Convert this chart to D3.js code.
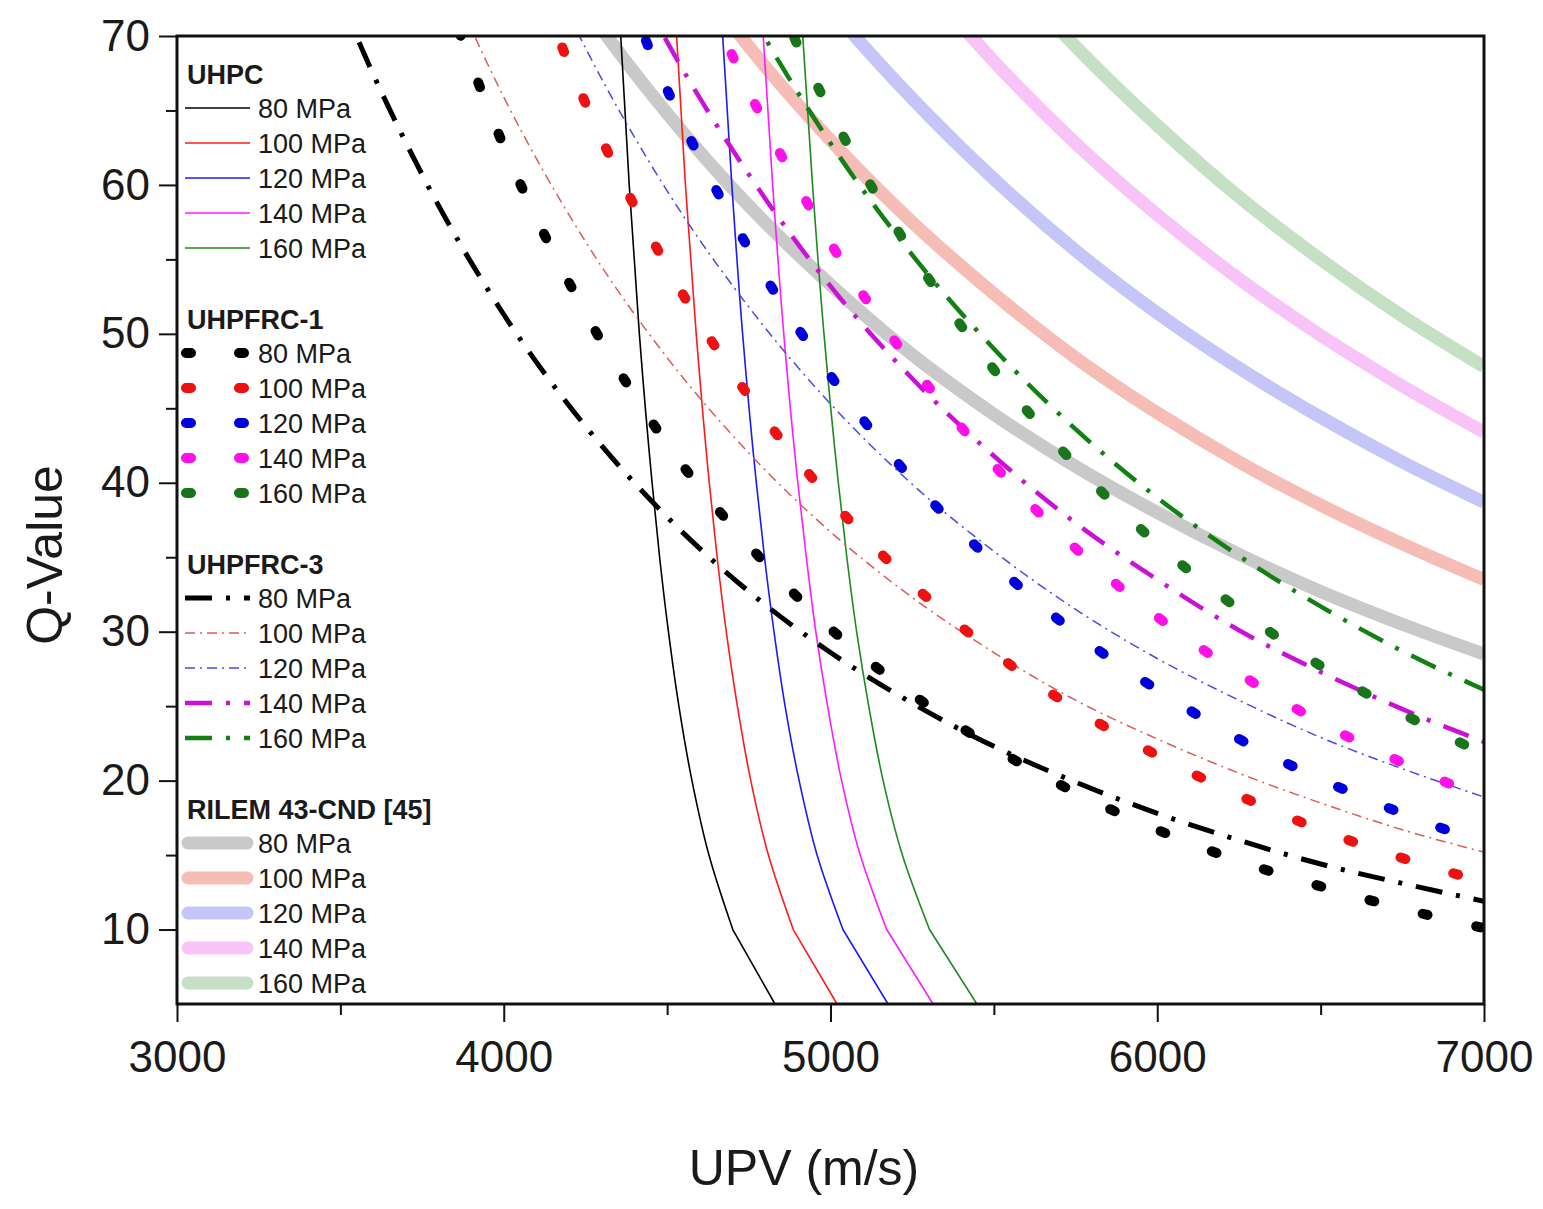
<!DOCTYPE html>
<html><head><meta charset="utf-8">
<script src="https://cdn.jsdelivr.net/npm/d3@7"></script>
<style>body{margin:0;background:#fff} text{font-family:"Liberation Sans",Arial,Helvetica,sans-serif;fill:#1a1a1a}</style>
</head><body><svg id="c" width="1543" height="1209"></svg>
<script>
// ---------- DATA ----------
const strengths = ["80 MPa","100 MPa","120 MPa","140 MPa","160 MPa"];
const groupTitles = ["UHPC","UHPFRC-1","UHPFRC-3","RILEM 43-CND [45]"];
const xTicks = [3000,4000,5000,6000,7000];
const xMinor = [3500,4500,5500,6500];
const yTicks = [10,20,30,40,50,60,70];
const yMinor = [15,25,35,45,55,65];

// UHPC (thin solid) : UPV read at given Q levels
const qLevels = [5,10,15,20,25,30,35,40,50,60,70];
const uhpc80  = [4830,4701,4628,4576,4536,4504,4477,4454,4415,4384,4358];
const uhpc100 = [5020,4886,4810,4756,4715,4681,4653,4629,4589,4556,4529];
const uhpc120 = [5176,5038,4959,4904,4861,4827,4798,4773,4731,4698,4670];
const uhpc140 = [5314,5172,5091,5034,4991,4955,4926,4900,4857,4823,4794];
const uhpc160 = [5448,5303,5220,5161,5117,5080,5050,5024,4980,4945,4915];

// Other families: Q read at UPV grid
const upvGrid = [3250,3500,3750,4000,4250,4500,4750,5000,5250,5500,5750,6000,6250,6500,6750,7000];
// UHPFRC-1 (dotted)
const f1_80  = [null,null,77.3,62.6,51.4,42.6,35.8,30.2,25.8,22.2,19.2,16.7,14.6,12.9,11.4,10.1];
const f1_100 = [null,null,null,79.6,65.5,54.5,45.8,38.9,33.2,28.6,24.8,21.7,19.0,16.7,14.8,13.2];
const f1_120 = [null,null,null,null,80.0,66.4,55.7,47.2,40.2,34.6,29.9,26.1,22.8,20.1,17.8,15.8];
const f1_140 = [null,null,null,null,null,79.0,66.3,56.1,47.9,41.2,35.6,31.0,27.2,23.9,21.2,18.8];
const f1_160 = [null,null,null,null,null,null,76.6,64.9,55.4,47.6,41.2,35.9,31.5,27.7,24.5,21.8];
// UHPFRC-3 (dash-dot)
const f3_80  = [88.2,72.6,60.7,51.3,43.8,37.7,32.7,28.6,25.2,22.3,19.9,17.8,16.0,14.4,13.1,11.9];
const f3_100 = [null,null,78.0,65.9,56.2,48.4,42.0,36.7,32.3,28.6,25.4,22.8,20.5,18.5,16.7,15.2];
const f3_120 = [null,null,null,81.0,69.2,59.6,51.8,45.3,39.9,35.4,31.5,28.2,25.4,22.9,20.8,18.9];
const f3_140 = [null,null,null,null,80.5,69.6,60.7,53.2,47.0,41.8,37.3,33.5,30.1,27.3,24.8,22.6];
const f3_160 = [null,null,null,null,null,82.6,71.8,62.8,55.3,49.0,43.6,39.0,35.1,31.7,28.7,26.1];
// RILEM 43-CND [45] (wide light bands)
const r_80  = [null,null,null,80.6,72.0,64.8,58.6,53.3,48.6,44.6,41.1,38.0,35.2,32.7,30.5,28.5];
const r_100 = [null,null,null,null,null,76.7,69.3,63.0,57.5,52.7,48.4,44.7,41.4,38.5,35.9,33.5];
const r_120 = [null,null,null,null,null,null,79.1,71.9,65.8,60.4,55.6,51.4,47.7,44.4,41.4,38.7];
const r_140 = [null,null,null,null,null,null,null,81.7,74.6,68.3,62.8,58.0,53.7,49.9,46.5,43.4];
const r_160 = [null,null,null,null,null,null,null,null,82.2,75.3,69.3,64.0,59.2,55.0,51.2,47.8];

// ---------- STYLES ----------
const uhpcStyle = {colors:["#000000","#ff1a1a","#1a1aff","#ff1aff","#1f8a1f"], width:1.6};
const f1Style = {colors:["#000000","#ee1111","#0000dd","#ff10e8","#197519"], width:10, dash:"5 50"};
const f3Style = [
  {color:"#000000", width:5, dash:"27 14 4 14"},
  {color:"#e05a5a", width:1.5, dash:"10 5 2 5"},
  {color:"#4a4ae6", width:1.5, dash:"10 5 2 5"},
  {color:"#cc10d8", width:4.5, dash:"27 14 4 14"},
  {color:"#138013", width:4.5, dash:"27 14 4 14"}
];
const rStyle = {colors:["#c9c9c9","#f6bdb6","#c5c5f7","#f8c4f8","#c6e0c6"], width:13};

// ---------- CHART ----------
const svg = d3.select("#c");
const L=177, R=1484, T=36, B=1004;
const x = d3.scaleLinear().domain([3000,7000]).range([L,R]);
const y = d3.scaleLinear().domain([5,70]).range([B,T]);

svg.append("clipPath").attr("id","plotclip").append("rect")
  .attr("x",L).attr("y",T).attr("width",R-L).attr("height",B-T);
const plot = svg.append("g").attr("clip-path","url(#plotclip)");

const lineV = d3.line().defined(d=>d[1]!=null).x(d=>x(d[0])).y(d=>y(d[1])).curve(d3.curveMonotoneX);
const lineQsmooth = d3.line().x(d=>x(d[0])).y(d=>y(d[1])).curve(d3.curveMonotoneY);
const lineQstraight = d3.line().x(d=>x(d[0])).y(d=>y(d[1]));

const rSeries = [r_80,r_100,r_120,r_140,r_160];
const uSeries = [uhpc80,uhpc100,uhpc120,uhpc140,uhpc160];
const f3Series = [f3_80,f3_100,f3_120,f3_140,f3_160];
const f1Series = [f1_80,f1_100,f1_120,f1_140,f1_160];

rSeries.forEach((s,i)=>{
  plot.append("path").attr("d", lineV(upvGrid.map((v,k)=>[v,s[k]])))
    .attr("fill","none").attr("stroke",rStyle.colors[i]).attr("stroke-width",rStyle.width);
});
uSeries.forEach((s,i)=>{
  const pts = qLevels.map((q,k)=>[s[k],q]);
  // straight segment between the two lowest Q levels, smooth above
  const d = lineQstraight(pts.slice(0,2)) + lineQsmooth(pts.slice(1)).replace(/^M/,"L");
  plot.append("path").attr("d", d)
    .attr("fill","none").attr("stroke",uhpcStyle.colors[i]).attr("stroke-width",uhpcStyle.width)
    .attr("stroke-linejoin","round");
});
f3Series.forEach((s,i)=>{
  const st=f3Style[i];
  plot.append("path").attr("d", lineV(upvGrid.map((v,k)=>[v,s[k]])))
    .attr("fill","none").attr("stroke",st.color).attr("stroke-width",st.width)
    .attr("stroke-dasharray",st.dash);
});
f1Series.forEach((s,i)=>{
  plot.append("path").attr("d", lineV(upvGrid.map((v,k)=>[v,s[k]])))
    .attr("fill","none").attr("stroke",f1Style.colors[i]).attr("stroke-width",f1Style.width)
    .attr("stroke-dasharray",f1Style.dash).attr("stroke-linecap","round");
});

// axes
const fontTick = 44;
const gx = svg.append("g").attr("transform",`translate(0,${B})`)
  .call(d3.axisBottom(x).tickValues(xTicks).tickSize(18).tickPadding(19).tickFormat(d3.format("d")));
const gxm = svg.append("g").attr("transform",`translate(0,${B})`)
  .call(d3.axisBottom(x).tickValues(xMinor).tickSize(11).tickFormat(""));
const gy = svg.append("g").attr("transform",`translate(${L},0)`)
  .call(d3.axisLeft(y).tickValues(yTicks).tickSize(18).tickPadding(9));
const gym = svg.append("g").attr("transform",`translate(${L},0)`)
  .call(d3.axisLeft(y).tickValues(yMinor).tickSize(11).tickFormat(""));
[gx,gxm,gy,gym].forEach(g=>{
  g.select(".domain").remove();
  g.selectAll(".tick line").attr("stroke","#111").attr("stroke-width",2);
  g.selectAll(".tick text").attr("font-size",fontTick).attr("fill","#1a1a1a")
    .style("font-family","'Liberation Sans',Arial,sans-serif");
});

// frame
svg.append("rect").attr("x",L).attr("y",T).attr("width",R-L).attr("height",B-T)
  .attr("fill","none").attr("stroke","#111").attr("stroke-width",3);

// axis titles
svg.append("text").attr("x",804).attr("y",1185).attr("text-anchor","middle")
  .attr("font-size",50).text("UPV (m/s)");
svg.append("text").attr("transform","translate(62,555) rotate(-90)").attr("text-anchor","middle")
  .attr("font-size",50).text("Q-Value");

// legend
const leg = svg.append("g");
const titleY = [84,329,574,819];
const lx1=185, lx2=250, ltx=258, fs=27;
groupTitles.forEach((t,gi)=>{
  leg.append("text").attr("x",187).attr("y",titleY[gi]).attr("font-size",fs)
    .attr("font-weight","bold").text(t);
  strengths.forEach((s,i)=>{
    const yy = titleY[gi]+24+i*35;
    const ln = leg.append("line").attr("x1",lx1).attr("x2",lx2).attr("y1",yy).attr("y2",yy);
    if(gi===0){ ln.attr("stroke",uhpcStyle.colors[i]).attr("stroke-width",uhpcStyle.width); }
    else if(gi===1){ ln.attr("x1",lx1+1).attr("stroke",f1Style.colors[i]).attr("stroke-width",f1Style.width)
        .attr("stroke-dasharray","5 48").attr("stroke-linecap","round"); }
    else if(gi===2){ const st=f3Style[i]; ln.attr("stroke",st.color).attr("stroke-width",st.width)
        .attr("stroke-dasharray",st.dash); }
    else { ln.attr("stroke",rStyle.colors[i]).attr("stroke-width",rStyle.width).attr("stroke-linecap","round")
        .attr("x1",lx1+3).attr("x2",lx2-3); }
    leg.append("text").attr("x",ltx).attr("y",yy).attr("dy","0.36em").attr("font-size",fs).text(s);
  });
});
</script></body></html>
